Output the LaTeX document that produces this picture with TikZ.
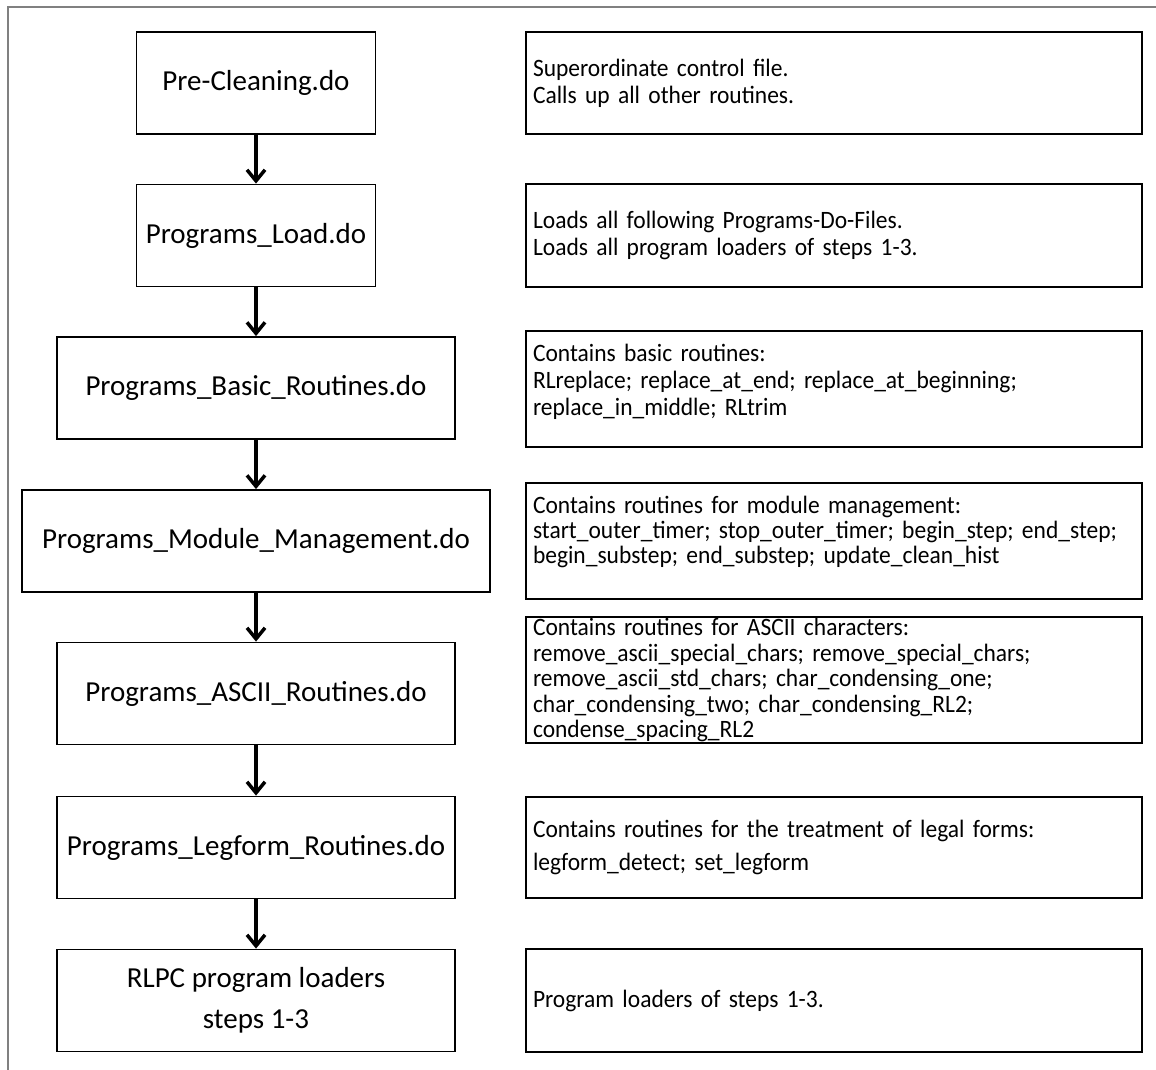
\documentclass[tikz,border=0pt]{standalone}
\usepackage{fontspec}
\setmainfont{Carlito}
\newfontfamily\notefont[FakeStretch=0.94]{Carlito}
\usetikzlibrary{arrows.meta}

\begin{document}
\begin{tikzpicture}[x=1pt, y=-1pt, every node/.style={inner sep=0pt},
    filebox/.style={draw, line width=1.8pt, minimum height=102pt, font=\fontsize{29}{41}\selectfont, align=center},
    notebox/.style={draw, line width=1.8pt, minimum width=616pt, text width=602pt, font=\notefont\fontsize{25}{27}\selectfont, align=left},
    flow/.style={line width=3.5pt, -{Straight Barb[length=11pt, width=18pt]}}]
        \useasboundingbox (0,0) rectangle (1156,1070);
        \draw[gray, line width=1.8pt] (1156,7) -- (8,7) -- (8,1070);

        % do-files
        \node[filebox, minimum width=239pt] (pre)     at (256,83)     {Pre-Cleaning.do};
        \node[filebox, minimum width=239pt] (load)    at (256,235.5)  {Programs\_Load.do};
        \node[filebox, minimum width=398pt] (basic)   at (256,388)    {Programs\_Basic\_Routines.do};
        \node[filebox, minimum width=468pt] (module)  at (256,541)    {Programs\_Module\_Management.do};
        \node[filebox, minimum width=398pt] (ascii)   at (256,693.5)  {Programs\_ASCII\_Routines.do};
        \node[filebox, minimum width=398pt] (legform) at (256,847.5)  {Programs\_Legform\_Routines.do};
        \node[filebox, minimum width=398pt] (rlpc)    at (256,1000.5) {RLPC program loaders\\steps 1-3};

        \draw[flow] (pre) -- (load);
        \draw[flow] (load) -- (basic);
        \draw[flow] (basic) -- (module);
        \draw[flow] (module) -- (ascii);
        \draw[flow] (ascii) -- (legform);
        \draw[flow] (legform) -- (rlpc);

        % descriptions
        \node[notebox, minimum height=102pt] (dpre)     at (834,83)     {Superordinate control file.\\Calls up all other routines.};
        \node[notebox, minimum height=103pt] (dload)    at (834,235.5)  {Loads all following Programs-Do-Files.\\Loads all program loaders of steps 1-3.};
        \node[notebox, minimum height=116pt] (dbasic)   at (834,389)    {Contains basic routines:\\RLreplace; replace\_at\_end; replace\_at\_beginning;\\replace\_in\_middle; RLtrim\\[-8pt]\mbox{}};
        \node[notebox, minimum height=116pt] (dmodule)  at (834,541)    {Contains routines for module management:\\[-2pt]start\_outer\_timer; stop\_outer\_timer; begin\_step; end\_step;\\[-2pt]begin\_substep; end\_substep; update\_clean\_hist\\[-4pt]\mbox{}};
        \node[notebox, minimum height=126pt] (dascii)   at (834,680)    {Contains routines for ASCII characters:\\[-1.5pt]remove\_ascii\_special\_chars; remove\_special\_chars;\\[-1.5pt]remove\_ascii\_std\_chars; char\_condensing\_one;\\[-1.5pt]char\_condensing\_two; char\_condensing\_RL2;\\[-1.5pt]condense\_spacing\_RL2};
        \node[notebox, minimum height=101pt] (dlegform) at (834,847.5)  {Contains routines for the treatment of legal forms:\\[6pt]legform\_detect; set\_legform};
        \node[notebox, minimum height=103pt] (drlpc)    at (834,1000.5) {Program loaders of steps 1-3.};
      \end{tikzpicture}
\end{document}
